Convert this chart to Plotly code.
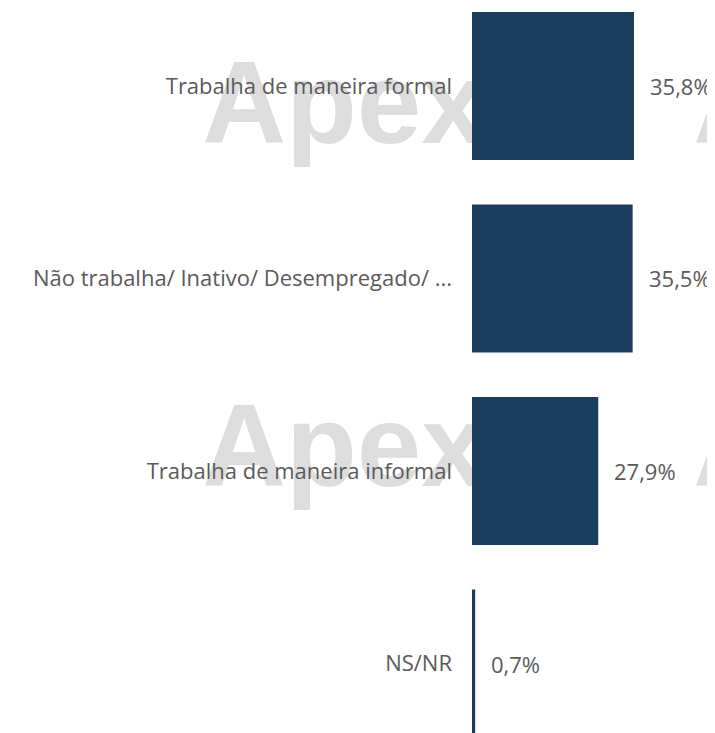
import plotly.graph_objects as go

# data
categories = [
    "Trabalha de maneira formal",
    "Não trabalha/ Inativo/ Desempregado/ ...",
    "Trabalha de maneira informal",
    "NS/NR",
]
values = [35.8, 35.5, 27.9, 0.7]
value_labels = ["35,8%", "35,5%", "27,9%", "0,7%"]

bar_color = "#1a3e5c"
text_color = "#5a5a5a"
font_family = "Open Sans, Segoe UI, sans-serif"

fig = go.Figure()
fig.add_trace(
    go.Bar(
        x=values,
        y=categories,
        orientation="h",
        marker=dict(color=bar_color, line=dict(width=0)),
        hoverinfo="skip",
    )
)

# value labels to the right of each bar
for cat, val, lab in zip(categories, values, value_labels):
    fig.add_annotation(
        x=val,
        y=cat,
        text=lab,
        showarrow=False,
        xanchor="left",
        yanchor="middle",
        xshift=14,
        font=dict(size=22, color=text_color, family=font_family),
    )

# "Apex" watermark behind the bars (page has an 8px body margin)
W, H, L = 707, 725, 464
for cx, cy in [(336, 84), (827, 84), (336, 427), (827, 427)]:
    px = (cx - L) / (W - L)
    py = 1 - cy / H
    fig.add_shape(
        type="rect",
        xref="paper",
        yref="paper",
        x0=px - 0.01,
        x1=px + 0.01,
        y0=py - 0.01,
        y1=py + 0.01,
        line=dict(width=0),
        fillcolor="rgba(0,0,0,0)",
        layer="below",
        label=dict(
            text="<b>Apex</b>",
            textposition="middle center",
            font=dict(size=116, color="#dddddd", family="Liberation Sans, Arial"),
        ),
    )

fig.update_layout(
    width=W,
    height=H,
    margin=dict(l=L, r=0, t=0, b=0),
    paper_bgcolor="white",
    plot_bgcolor="rgba(0,0,0,0)",
    bargap=0.231,
    showlegend=False,
    font=dict(family=font_family, size=22, color=text_color),
)
fig.update_xaxes(
    range=[0, (W - L) / 4.525],
    visible=False,
    showgrid=False,
    zeroline=False,
)
fig.update_yaxes(
    type="category",
    range=[3.361, -0.405],
    showgrid=False,
    zeroline=False,
    showline=False,
    ticks="",
    ticklabelstandoff=19,
    tickfont=dict(size=22, color=text_color, family=font_family),
)

fig.write_html("out.html")
